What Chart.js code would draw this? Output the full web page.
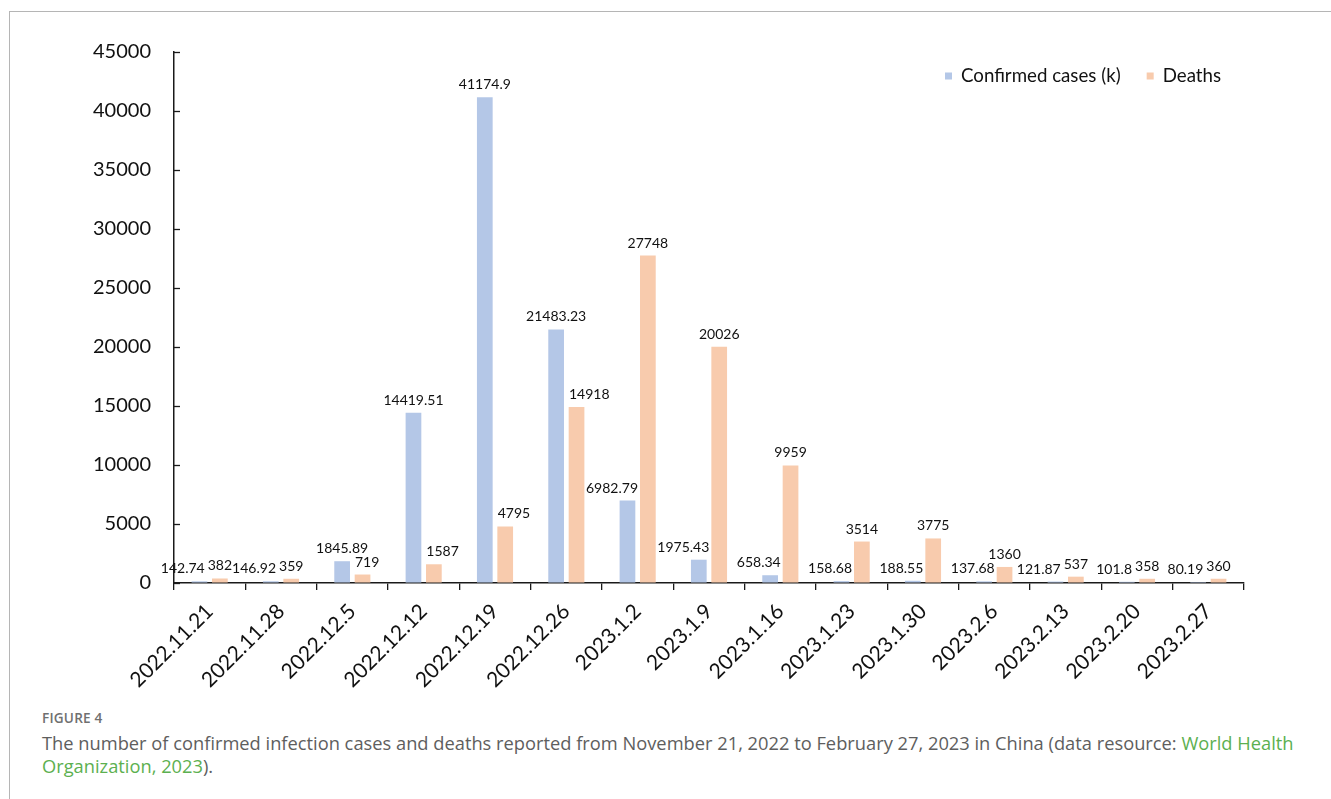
<!DOCTYPE html>
<html>
<head>
<meta charset="utf-8">
<script src="https://cdn.jsdelivr.net/npm/chart.js@4.4.1/dist/chart.umd.min.js"></script>
<style>
  html, body { margin: 0; padding: 0; background: #fff; }
  body { width: 1331px; height: 799px; position: relative; overflow: hidden; }
  .frame { position: absolute; left: 9px; top: 11px; right: -2px; bottom: -2px;
           border-left: 1px solid #b5b5b5; border-top: 1px solid #b5b5b5; }
  #chart { position: absolute; left: 0; top: 0; }
  .fig-no { position: absolute; left: 42px; top: 708px; font-family: "Open Sans", sans-serif;
            font-size: 13.6px; font-weight: 600; color: #707070; letter-spacing: 0.2px; }
  .caption { position: absolute; left: 42px; top: 731px; width: 1285px; font-family: "Open Sans", sans-serif;
             font-size: 18.3px; line-height: 23px; color: #5e5e5e; }
  .caption .src { color: #5cb050; }
</style>
</head>
<body>
<div class="frame"></div>
<canvas id="chart" width="1331" height="700"></canvas>
<div class="fig-no">FIGURE 4</div>
<div class="caption">The number of confirmed infection cases and deaths reported from November 21, 2022 to February 27, 2023 in China (data resource: <span class="src">World Health<br>Organization, 2023</span>).</div>
<script>
// Weekly reports, Nov 2022 – Feb 2023
const weeks = ['2022.11.21', '2022.11.28', '2022.12.5', '2022.12.12', '2022.12.19', '2022.12.26',
  '2023.1.2', '2023.1.9', '2023.1.16', '2023.1.23', '2023.1.30', '2023.2.6', '2023.2.13',
  '2023.2.20', '2023.2.27'];
const confirmedK = [142.74, 146.92, 1845.89, 14419.51, 41174.9, 21483.23, 6982.79, 1975.43,
  658.34, 158.68, 188.55, 137.68, 121.87, 101.8, 80.19];
const deaths = [382, 359, 719, 1587, 4795, 14918, 27748, 20026, 9959, 3514, 3775, 1360, 537, 358, 360];
const yTickValues = [0, 5000, 10000, 15000, 20000, 25000, 30000, 35000, 40000, 45000];

const FONT = 'Lato, "Liberation Sans", sans-serif';
const BLUE = '#b4c7e7';
const ORANGE = '#f8cbad';

// Inward tick marks on the value axis
const innerTicks = {
  id: 'innerTicks',
  afterDraw(chart) {
    const y = chart.scales.y;
    const ctx = chart.ctx;
    ctx.save();
    ctx.strokeStyle = '#1a1a1a';
    ctx.lineWidth = 1.3;
    y.ticks.forEach(t => {
      const py = Math.round(y.getPixelForValue(t.value)) + 0.5;
      ctx.beginPath();
      ctx.moveTo(y.right, py);
      ctx.lineTo(y.right + 6, py);
      ctx.stroke();
    });
    ctx.restore();
  }
};

// Value labels above bars; labels slide sideways when they would hit the neighbouring bar/label
const barLabels = {
  id: 'barLabels',
  afterDatasetsDraw(chart) {
    const ctx = chart.ctx;
    const m0 = chart.getDatasetMeta(0), m1 = chart.getDatasetMeta(1);
    const ds0 = chart.data.datasets[0].data, ds1 = chart.data.datasets[1].data;
    ctx.save();
    ctx.font = '14px ' + FONT;
    ctx.fillStyle = '#111';
    ctx.textBaseline = 'alphabetic';
    ctx.textAlign = 'left';
    const asc = 10, desc = 3, gapY = 8;
    for (let i = 0; i < ds0.length; i++) {
      const b = m0.data[i], o = m1.data[i];
      const bt = String(ds0[i]), ot = String(ds1[i]);
      const bw = ctx.measureText(bt).width, ow = ctx.measureText(ot).width;
      const bBase = b.y - gapY, oBase = o.y - gapY;
      let bl = b.x - bw / 2;
      let ol = o.x - ow / 2;
      const bTop = bBase - asc, bBot = bBase + desc;
      const oTop = oBase - asc, oBot = oBase + desc;
      // cases label vs deaths bar
      const oBarL = o.x - o.width / 2;
      if (bl + bw > oBarL - 2 && bBot > o.y) {
        bl = Math.min(bl, oBarL - 2 - bw);
      }
      // deaths label vs cases bar
      const bBarR = b.x + b.width / 2;
      if (ol < bBarR + 5 && oBot > b.y) {
        ol = Math.max(ol, bBarR + 5);
      }
      // cases label vs deaths label
      if (bl + bw > ol - 3 && bBot > oTop && bTop < oBot) {
        bl = Math.min(bl, ol - 3 - bw);
      }
      ctx.fillText(bt, bl, bBase);
      ctx.fillText(ot, ol, oBase);
    }
    ctx.restore();
  }
};

// Legend drawn in the upper right of the plot
const cornerLegend = {
  id: 'cornerLegend',
  afterDraw(chart) {
    const ctx = chart.ctx;
    ctx.save();
    ctx.font = '18.7px ' + FONT;
    ctx.textBaseline = 'middle';
    ctx.textAlign = 'left';
    let x = 945;
    const y = 76;
    chart.data.datasets.forEach(ds => {
      ctx.fillStyle = ds.backgroundColor;
      ctx.fillRect(x, y - 3.5, 7, 7);
      ctx.fillStyle = '#111';
      ctx.fillText(ds.label, x + 16, y);
      x += 16 + ctx.measureText(ds.label).width + 26;
    });
    ctx.restore();
  }
};

new Chart(document.getElementById('chart'), {
  type: 'bar',
  data: {
    labels: weeks,
    datasets: [
      { label: 'Confirmed cases (k)', data: confirmedK, backgroundColor: BLUE,
        categoryPercentage: 0.572, barPercentage: 0.77 },
      { label: 'Deaths', data: deaths, backgroundColor: ORANGE,
        categoryPercentage: 0.572, barPercentage: 0.77 }
    ]
  },
  options: {
    responsive: false,
    animation: false,
    layout: { padding: { top: 52, right: 87, left: 0, bottom: 0 } },
    plugins: { legend: { display: false }, tooltip: { enabled: false } },
    scales: {
      x: {
        grid: { display: true, offset: true, drawOnChartArea: false, drawTicks: true,
                tickLength: 7, color: '#1a1a1a', lineWidth: 1.3 },
        border: { display: true, color: '#1a1a1a', width: 1.5 },
        ticks: { color: '#111', font: { family: FONT, size: 21 }, minRotation: 45, maxRotation: 45,
                 autoSkip: false, padding: 9 },
        afterFit(scale) { scale.height = 700 - 583; }
      },
      y: {
        min: 0, max: 45000,
        afterBuildTicks(scale) { scale.ticks = yTickValues.map(v => ({ value: v })); },
        grid: { display: true, drawOnChartArea: false, drawTicks: false },
        border: { display: true, color: '#1a1a1a', width: 1.5 },
        ticks: { color: '#111', font: { family: FONT, size: 20 }, padding: 23,
                 callback: v => String(v) },
        afterFit(scale) { scale.width = 174; }
      }
    }
  },
  plugins: [innerTicks, barLabels, cornerLegend]
});
</script>
</body>
</html>
